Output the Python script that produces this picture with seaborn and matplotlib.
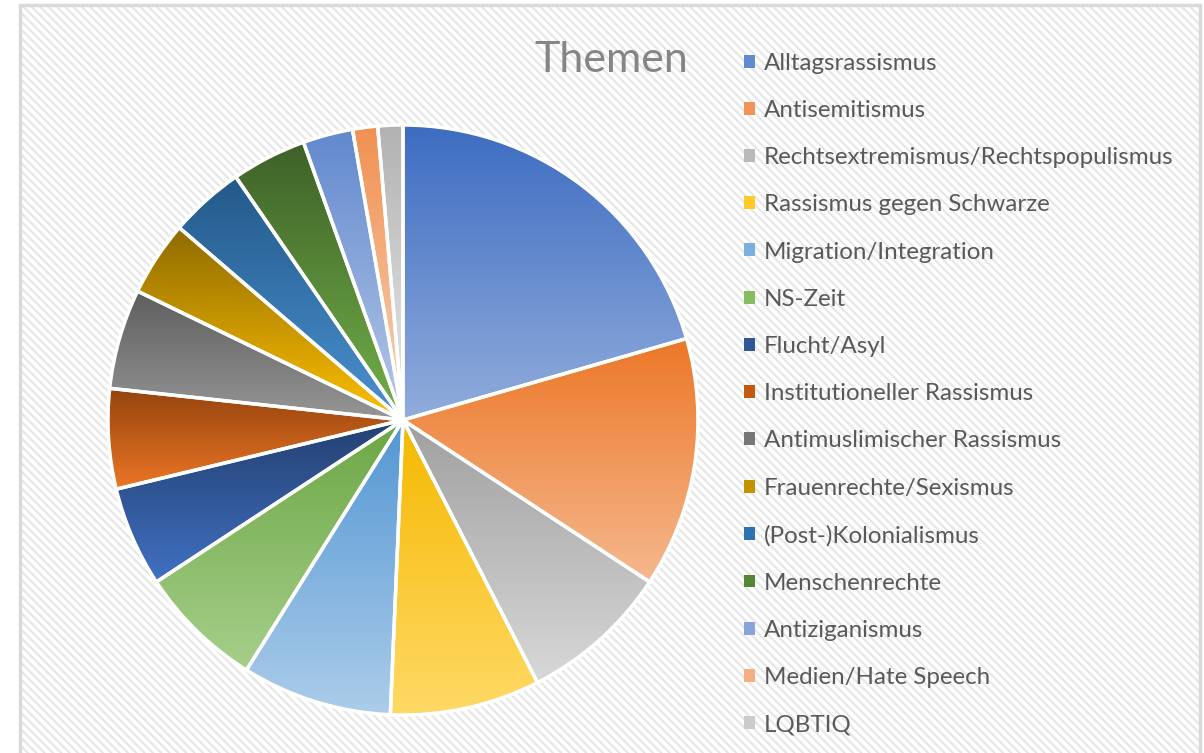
import colorsys
import numpy as np
import seaborn as sns
import matplotlib.pyplot as plt
from matplotlib.patches import Rectangle, Patch
from matplotlib.colors import to_rgb

themen = [
    "Alltagsrassismus", "Antisemitismus", "Rechtsextremismus/Rechtspopulismus",
    "Rassismus gegen Schwarze", "Migration/Integration", "NS-Zeit", "Flucht/Asyl",
    "Institutioneller Rassismus", "Antimuslimischer Rassismus", "Frauenrechte/Sexismus",
    "(Post-)Kolonialismus", "Menschenrechte", "Antiziganismus", "Medien/Hate Speech", "LQBTIQ",
]
anzahl = [15, 10, 6, 6, 6, 5, 4, 4, 4, 3, 3, 3, 2, 1, 1]

# Office-Farben
farben = ["#4472C4", "#ED7D31", "#A5A5A5", "#FFC000", "#5B9BD5", "#70AD47",
          "#264478", "#9E480E", "#636363", "#997300", "#255E91", "#43682B",
          "#698ED0", "#F1975A", "#B7B7B7"]

sns.set_theme(style="white")
plt.rcParams['font.family'] = ['Lato', 'DejaVu Sans']
plt.rcParams['hatch.linewidth'] = 1.5

palette = sns.color_palette(farben)


def hell(c, dl):
    h, l, s = colorsys.rgb_to_hls(*to_rgb(c))
    return colorsys.hls_to_rgb(h, min(max(l + dl, 0), 0.95), s)


fig = plt.figure(figsize=(12.04, 7.53), dpi=100)

# Hintergrund mit Schraffur + Rahmen
fig.patches.append(Rectangle((20 / 1204, -0.01), 1180 / 1204, 1 - 5 / 753 + 0.01,
                             transform=fig.transFigure, facecolor='white',
                             edgecolor='#E6E6E6', hatch='\\\\\\\\', lw=0, zorder=-5))
fig.patches.append(Rectangle((20 / 1204, -0.01), 1180 / 1204, 1 - 5 / 753 + 0.01,
                             transform=fig.transFigure, facecolor='none',
                             edgecolor='#D9D9D9', lw=2.5, zorder=5))

ax = fig.add_axes([(403 - 300) / 1204, (753 - 420 - 300) / 753, 600 / 1204, 600 / 753])
ax.patch.set_visible(False)

wedges, _ = ax.pie(anzahl, startangle=90, counterclock=False, radius=1,
                   colors=palette, wedgeprops=dict(edgecolor='white', linewidth=2.5))

# Verlauf je Segment: oben kräftig, unten heller
for w, c in zip(wedges, palette):
    v = w.get_path().vertices
    x0, x1 = v[:, 0].min(), v[:, 0].max()
    y0, y1 = v[:, 1].min(), v[:, 1].max()
    oben = np.array(hell(c, -0.02))
    unten = np.array(hell(c, 0.2))
    t = np.linspace(0, 1, 256)[:, None]
    grad = (oben[None, :] * (1 - t) + unten[None, :] * t)[:, None, :]
    im = ax.imshow(grad, extent=[x0, x1, y0, y1], origin='upper', aspect='auto',
                   interpolation='bilinear', zorder=1)
    im.set_clip_path(w)
    w.set_facecolor('none')
    w.set_zorder(2)

lim = 300 / 295
ax.set_xlim(-lim, lim)
ax.set_ylim(-lim, lim)
ax.set_aspect('equal')
ax.axis('off')

fig.text(611 / 1204, 1 - 60 / 753, "Themen", ha='center', va='center',
         fontsize=31, color='#858585')

handles = [Patch(facecolor=hell(c, 0.08), edgecolor='none') for c in palette]
fig.legend(handles, themen, loc='upper left', bbox_to_anchor=(734 / 1204, 1 - 43 / 753),
           frameon=False, fontsize=17.4, labelcolor='#595959', handlelength=0.45,
           handleheight=0.45, handletextpad=0.4, labelspacing=1.085, borderaxespad=0)

fig.savefig("out.png", dpi=100)
